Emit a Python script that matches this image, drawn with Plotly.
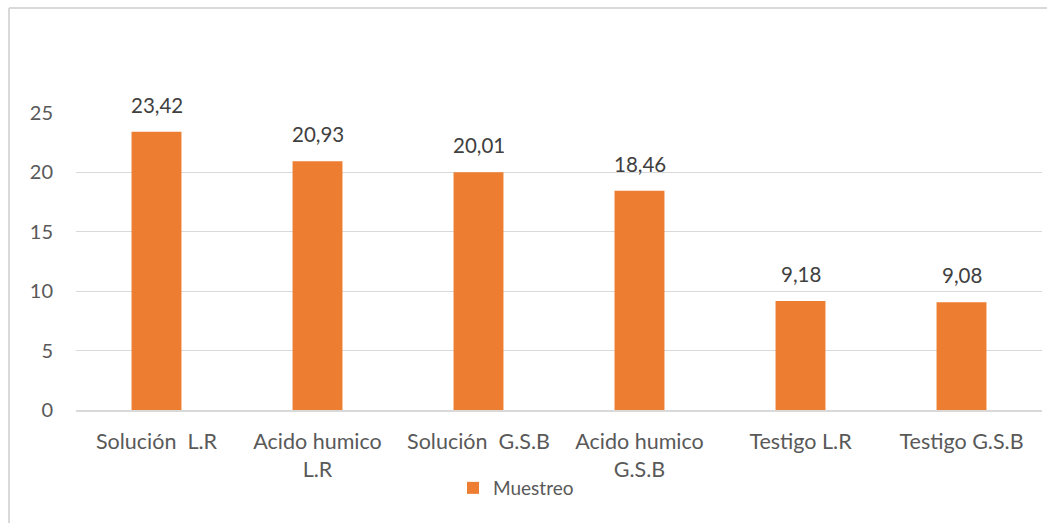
import plotly.graph_objects as go

# Muestreo results per treatment
categorias = [
    "Solución\u00a0 L.R",
    "Acido humico<br>L.R",
    "Solución\u00a0 G.S.B",
    "Acido humico<br>G.S.B",
    "Testigo L.R",
    "Testigo G.S.B",
]
muestreo = [23.42, 20.93, 20.01, 18.46, 9.18, 9.08]
y_ticks = [0, 5, 10, 15, 20, 25]

W, H = 1048, 523
ML, MR, MT, MB = 76, 6, 113, 113
PW, PH = W - ML - MR, H - MT - MB

FONT = "Lato"
ORANGE = "#ED7D31"
GRID = "#D9D9D9"

fig = go.Figure()
fig.add_trace(go.Bar(
    x=categorias,
    y=muestreo,
    name="Muestreo",
    marker=dict(color=ORANGE, line=dict(width=0)),
    showlegend=True,
))

# value labels above each bar
for c, v in zip(categorias, muestreo):
    fig.add_annotation(
        x=c, y=v, text=f"{v:.2f}".replace(".", ","),
        showarrow=False, yanchor="middle", yshift=27,
        font=dict(family=FONT, size=20.5, color="#404040"),
    )

# chart frame (left and top edges)
def px_x(p):
    return (p - ML) / PW

def px_y(p):
    return (H - MB - p) / PH

fig.add_shape(type="line", xref="paper", yref="paper",
              x0=px_x(9), x1=px_x(9), y0=px_y(8), y1=px_y(H),
              line=dict(color=GRID, width=2))
fig.add_shape(type="line", xref="paper", yref="paper",
              x0=px_x(9), x1=px_x(W - 1), y0=px_y(8), y1=px_y(8),
              line=dict(color=GRID, width=2))

fig.update_layout(
    width=W, height=H,
    margin=dict(l=ML, r=MR, t=MT, b=MB, autoexpand=False),
    paper_bgcolor="white",
    plot_bgcolor="white",
    bargap=0.69,
    separators=",.",
    font=dict(family=FONT, color="#595959"),
    xaxis=dict(
        type="category",
        automargin=False,
        showgrid=False,
        showline=True, linecolor=GRID, linewidth=1.5,
        ticks="",
        ticklabelstandoff=11,
        tickfont=dict(family=FONT, size=21.5, color="#595959"),
    ),
    yaxis=dict(
        range=[0, 25],
        automargin=False,
        tickvals=y_ticks,
        showgrid=True, gridcolor=GRID, gridwidth=1,
        zeroline=False, showline=False,
        ticks="",
        ticklabelstandoff=22,
        tickfont=dict(family=FONT, size=20, color="#595959"),
    ),
    showlegend=True,
    legend=dict(
        orientation="h",
        xref="container", yref="container",
        x=453 / W, xanchor="left",
        y=1 - 488 / H, yanchor="middle",
        font=dict(family=FONT, size=19, color="#595959"),
        bgcolor="rgba(0,0,0,0)",
    ),
)

fig.write_html("out.html")
